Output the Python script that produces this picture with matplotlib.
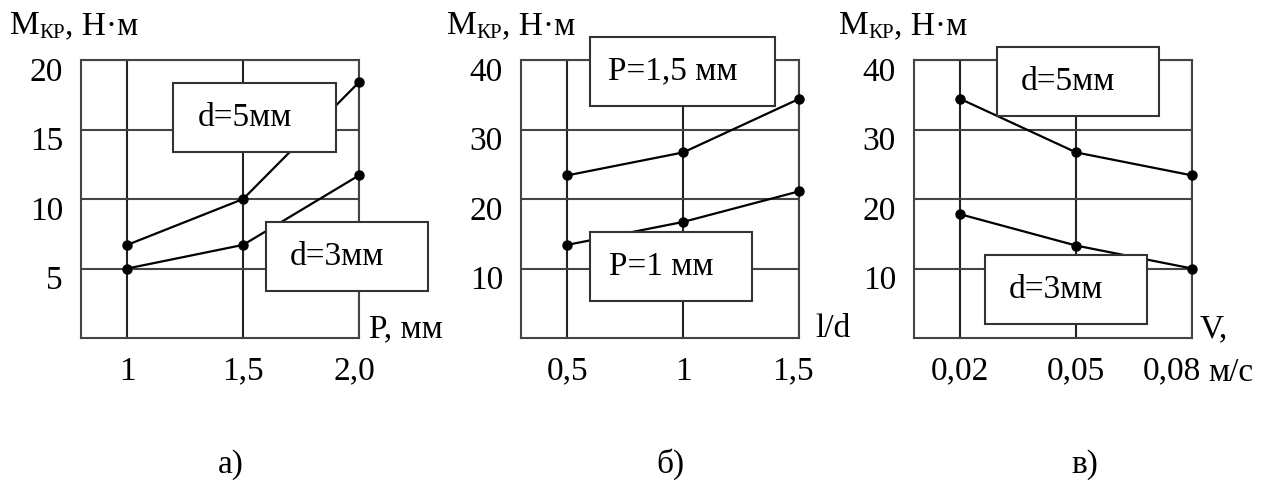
import matplotlib.pyplot as plt
from matplotlib.patches import Rectangle
from matplotlib.transforms import ScaledTranslation

plt.rcParams['font.family'] = ['Liberation Serif', 'DejaVu Serif']

# panel a: torque vs thread pitch
p_vals = [1.0, 1.5, 2.0]
a_d5 = [6.7, 10.0, 18.4]
a_d3 = [5.0, 6.7, 11.7]
a_xticks = [1.0, 1.5, 2.0]
a_xlabels = ['1', '1,5', '2,0']
a_yticks = [5, 10, 15, 20]

# panel b: torque vs l/d
ld_vals = [0.5, 1.0, 1.5]
b_p15 = [23.4, 26.7, 34.4]
b_p1 = [13.4, 16.7, 21.1]
b_xlabels = ['0,5', '1', '1,5']
b_yticks = [10, 20, 30, 40]

# panel c: torque vs speed
v_vals = [0.02, 0.05, 0.08]
c_d5 = [34.4, 26.7, 23.4]
c_d3 = [17.8, 13.3, 10.0]
c_xlabels = ['0,02', '0,05', '0,08']
c_yticks = [10, 20, 30, 40]

W, H = 1274, 482
fig = plt.figure(figsize=(W / 100, H / 100), dpi=100)
FS = 24


def fx(px):
    return px / W


def fy(py):
    return 1 - py / H


def shift(artist, dx_px, dy_px):
    off = ScaledTranslation(dx_px / 100, dy_px / 100, fig.dpi_scale_trans)
    artist.set_transform(artist.get_transform() + off)


def make_axes(left_px, xlim, ylim, xticks, xlabels, yticks):
    ax = fig.add_axes([fx(left_px), fy(338), 278 / W, 278 / H])
    for x in xticks:
        ax.axvline(x, color='#222222', lw=1.5, zorder=1)
    for y in yticks:
        ax.axhline(y, color='#444444', lw=1.5, zorder=1)
    ax.set_xlim(*xlim)
    ax.set_ylim(*ylim)
    ax.set_xticks(xticks)
    ax.set_xticklabels(xlabels, fontsize=FS)
    ax.set_yticks(yticks)
    ax.set_yticklabels([str(t) for t in yticks], fontsize=FS)
    ax.tick_params(length=0, pad=13)
    for lab in ax.get_yticklabels():
        shift(lab, 0, -9)
    for s in ax.spines.values():
        s.set_color('#444444')
        s.set_linewidth(1.5)
    return ax


def series(ax, x, y):
    ax.plot(x, y, color='black', lw=1.6, marker='o', ms=6.5, zorder=3,
            clip_on=False)


def box(x0, y0, x1, y1, text):
    fig.add_artist(Rectangle((fx(x0), fy(y1)), fx(x1 - x0), (y1 - y0) / H,
                             transform=fig.transFigure, facecolor='white',
                             edgecolor='#333333', lw=1.5, zorder=5))
    fig.text(fx((x0 + x1) / 2 - 10), fy((y0 + y1) / 2), text, fontsize=FS,
             ha='center', va='center', zorder=6)


def ylab(x_px):
    t1 = fig.text(fx(x_px), fy(34), 'М', fontsize=FS, ha='left', va='baseline')
    t2 = fig.text(0, 0, 'КР', fontsize=15, ha='left', va='baseline')
    t2.set_position((fx(x_px), fy(38)))
    t3 = fig.text(0, fy(34), ', Н·м', fontsize=FS, ha='left', va='baseline')
    fig.canvas.draw()
    r = fig.canvas.get_renderer()
    b1 = t1.get_window_extent(r)
    t2.set_x(b1.x1 / W)
    b2 = t2.get_window_extent(r)
    t3.set_x(b2.x1 / W)


# a)
ax1 = make_axes(81, (0.8, 2.0), (0, 20), a_xticks, a_xlabels, a_yticks)
series(ax1, p_vals, a_d5)
series(ax1, p_vals, a_d3)
shift(ax1.get_xticklabels()[2], -5, 0)
box(173, 83, 336, 152, 'd=5мм')
box(266, 222, 428, 291, 'd=3мм')
ylab(10)
fig.text(fx(369), fy(337), 'P, мм', fontsize=FS, ha='left', va='baseline')
fig.text(fx(231), fy(473), 'а)', fontsize=FS, ha='center', va='baseline')

# б)
ax2 = make_axes(521, (0.3, 1.5), (0, 40), ld_vals, b_xlabels, b_yticks)
series(ax2, ld_vals, b_p15)
series(ax2, ld_vals, b_p1)
shift(ax2.get_xticklabels()[2], -6, 0)
box(590, 37, 775, 106, 'P=1,5 мм')
box(590, 232, 752, 301, 'P=1 мм')
ylab(447)
fig.text(fx(815), fy(337), 'l/d', fontsize=FS, ha='left', va='baseline')
fig.text(fx(670), fy(473), 'б)', fontsize=FS, ha='center', va='baseline')

# в)
ax3 = make_axes(914, (0.008, 0.08), (0, 40), v_vals, c_xlabels, c_yticks)
series(ax3, v_vals, c_d5)
series(ax3, v_vals, c_d3)
shift(ax3.get_xticklabels()[2], -20, 0)
box(997, 47, 1159, 116, 'd=5мм')
box(985, 255, 1147, 324, 'd=3мм')
ylab(839)
fig.text(fx(1200), fy(337), 'V,', fontsize=FS, ha='left', va='baseline')
fig.text(fx(1208), fy(381), 'м/с', fontsize=FS, ha='left', va='baseline')
fig.text(fx(1085), fy(473), 'в)', fontsize=FS, ha='center', va='baseline')

fig.savefig('out.png', dpi=100)
